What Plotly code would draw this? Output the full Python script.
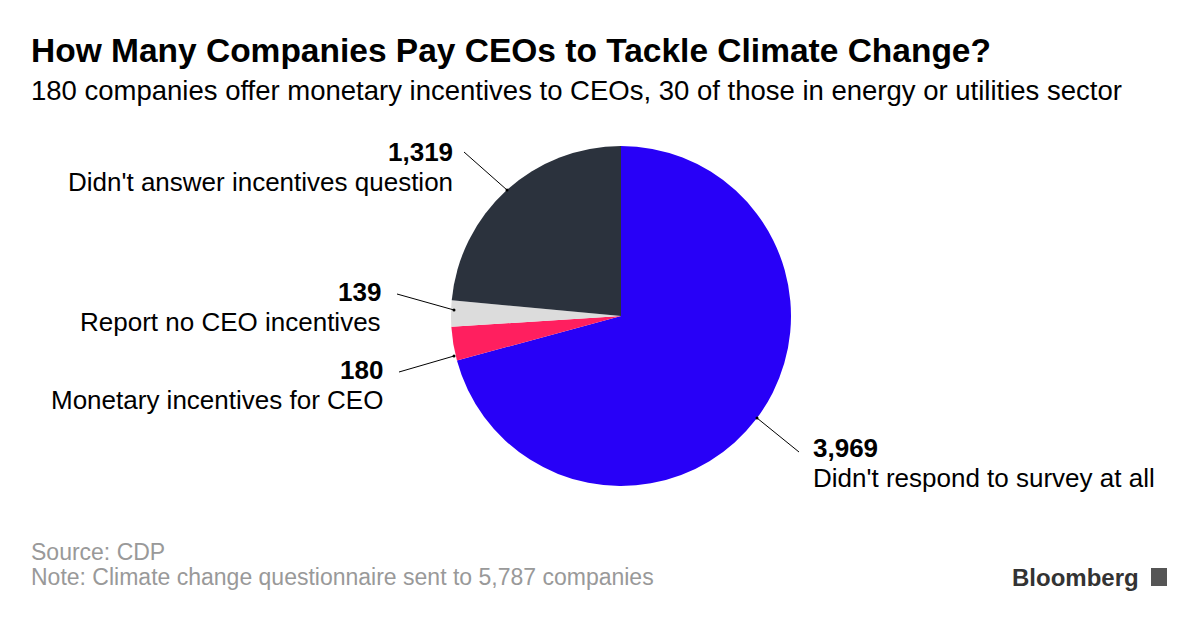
import plotly.graph_objects as go

labels = ["Didn't respond to survey at all", "Monetary incentives for CEO", "Report no CEO incentives", "Didn't answer incentives question"]
values = [3969, 180, 139, 1319]
colors = ["#2800f7", "#ff1f5f", "#dcdcdc", "#2b323d"]

W, H = 1200, 620
OX, OY = -9, -8
def px(x, y):
    return (x + OX) / W, 1 - (y + OY) / H

d0 = px(452, 486); d1 = px(792, 146)
fig = go.Figure(go.Pie(labels=labels, values=values, sort=False, direction="clockwise",
                       rotation=0, marker=dict(colors=colors, line=dict(width=0)),
                       textinfo="none", hoverinfo="label+value",
                       domain=dict(x=[d0[0], d1[0]], y=[d0[1], d1[1]])))

font = "Liberation Sans, Arial, sans-serif"
ann = []
def add(x, y, text, anchor, size=26, color="black"):
    ax, ay = px(x, y)
    ann.append(dict(x=ax, y=ay, xref="paper", yref="paper", text=text, showarrow=False,
                    xanchor=anchor, yanchor="middle", font=dict(family=font, size=size, color=color)))

add(30, 50, "<b>How Many Companies Pay CEOs to Tackle Climate Change?</b>", "left", 33.5)
add(30, 90, "180 companies offer monetary incentives to CEOs, 30 of those in energy or utilities sector", "left", 27.5)
label_pos = [(812, 448, "right"), (386, 370, "left"), (384, 292, "left"), (456, 152, "left")]
for (x, y, side), lab, v in zip(label_pos, labels, values):
    anchor = "left" if side == "right" else "right"
    add(x, y, f"<b>{v:,}</b>", anchor)
    add(x, y + 30, lab, anchor)
add(30, 552, "Source: CDP", "left", 23, "#999999")
add(30, 577, "Note: Climate change questionnaire sent to 5,787 companies", "left", 23, "#999999")
add(1142, 577, "<b>Bloomberg</b>", "right", 24, "#333333")

lines = [(758, 418, 800, 452), (455, 356, 400, 372), (455, 310, 398, 294), (508, 190, 465, 152)]
shapes = []
for x0, y0, x1, y1 in lines:
    a, b = px(x0, y0); c, d = px(x1, y1)
    shapes.append(dict(type="line", xref="paper", yref="paper", x0=a, y0=b, x1=c, y1=d,
                       line=dict(color="black", width=1)))
    shapes.append(dict(type="circle", xref="paper", yref="paper", x0=a-1.5/W, x1=a+1.5/W,
                       y0=b-1.5/H, y1=b+1.5/H, fillcolor="black", line=dict(width=0)))
a, b = px(1152, 568); c, d = px(1168, 586)
shapes.append(dict(type="rect", xref="paper", yref="paper", x0=a, y0=b, x1=c, y1=d,
                   fillcolor="#555555", line=dict(width=0)))

fig.update_layout(width=W, height=H, margin=dict(l=0, r=0, t=0, b=0), showlegend=False,
                  paper_bgcolor="white", annotations=ann, shapes=shapes)
fig.write_html("out.html")
